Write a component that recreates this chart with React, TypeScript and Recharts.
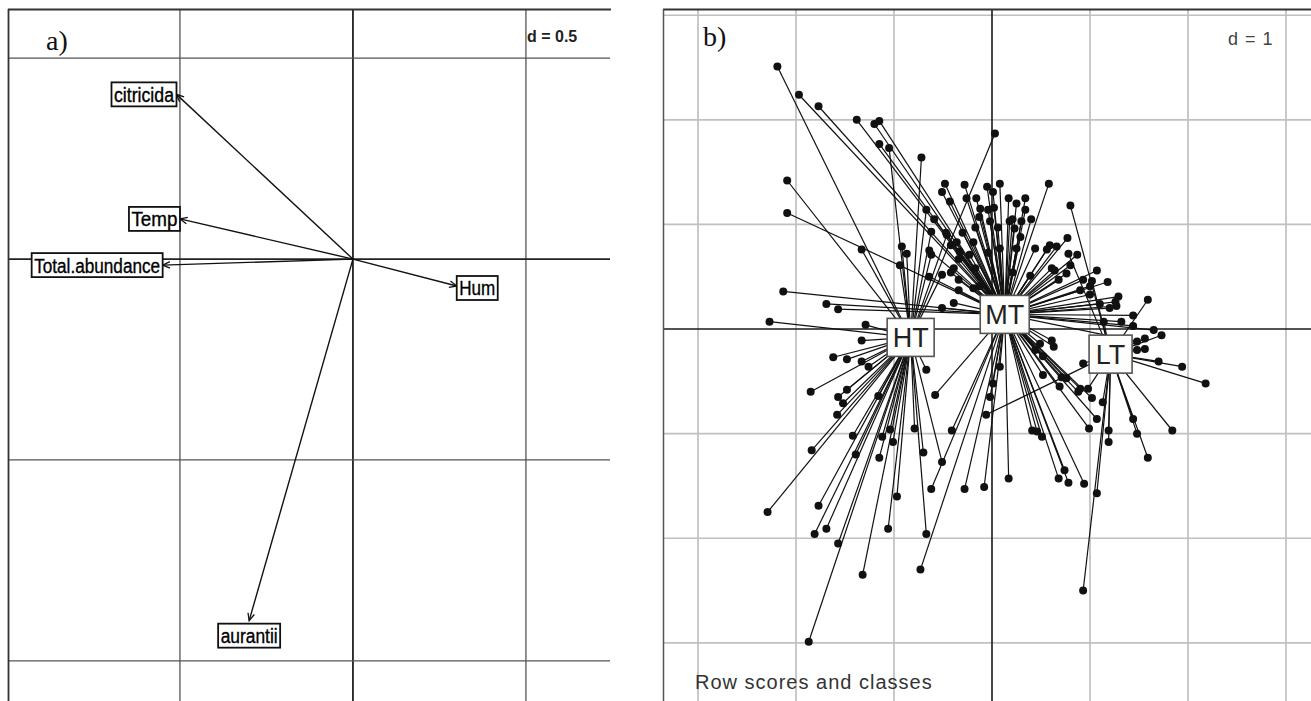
import React from 'react';
import { ScatterChart, Scatter, XAxis, YAxis, ReferenceLine } from 'recharts';

// ---- panel a: variable arrows ----
const varNames = ['citricida', 'Temp', 'Total.abundance', 'Hum', 'aurantii'];
const varX = [-0.51, -0.5, -0.55, 0.3, -0.3];
const varY = [0.41, 0.1, -0.015, -0.067, -0.9];
const gridAX = [-0.5, 0, 0.5];
const gridAY = [0.5, 0, -0.5, -1];

// ---- panel b: row scores and class centroids ----
const classNames = ['HT', 'MT', 'LT'];
const classX = [-0.83, 0.13, 1.21];
const classY = [-0.08, 0.14, -0.24];

const htScores = [
  [-2.19, 2.51], [-1.05, 1.73], [-0.72, 1.64], [-2.09, 1.42], [-1.33, 0.76], [-0.94, 0.61],
  [-2.27, 0.07], [-1.29, 0.04], [-0.67, 1.14], [-0.62, 0.93], [-0.62, 0.71], [-0.51, 0.52],
  [-0.46, 0.9], [-0.92, 0.79], [-0.87, 0.72], [0.03, 1.87], [-1.33, -0.11], [-1.62, -0.27],
  [-1.48, -0.29], [-1.33, -0.31], [-1.26, -0.36], [-1.85, -0.6], [-1.57, -0.65], [-1.48, -0.58],
  [-1.52, -0.71], [-1.58, -0.82], [-1.16, -0.64], [-1.42, -1.02], [-1.39, -1.2], [-1.84, -1.16],
  [-1.15, -1.23], [-1.01, -1.08], [-0.79, -0.95], [-0.7, -1.18], [-0.51, -1.27], [-0.67, -0.39],
  [-0.97, -1.6], [-1.77, -1.69], [-2.29, -1.75], [-1.81, -1.96], [-1.69, -1.91], [-1.57, -2.05],
  [-1.06, -1.91], [-0.67, -1.96], [-1.32, -2.35], [-1.87, -2.99], [-1.12, -1.03], [-1.04, -0.96],
];

const mtScores = [
  [-1.97, 2.24], [-1.77, 2.13], [-1.38, 2.0], [-1.2, 1.96], [-1.15, 1.99], [-1.15, 1.77],
  [-2.09, 1.11], [-2.13, 0.36], [-1.69, 0.24], [-1.57, 0.19], [-0.51, 1.31], [-0.48, 1.39],
  [-0.43, 1.22], [-0.36, 0.83], [-0.26, 1.25], [-0.28, 1.38], [-0.16, 1.25], [-0.12, 1.15],
  [-0.05, 1.36], [0.01, 1.31], [-0.02, 1.03], [-0.19, 0.83], [-0.33, 0.74], [-0.39, 0.58],
  [-0.39, 0.25], [-0.51, 0.2], [-0.19, 0.39], [0.08, 1.39], [0.58, 1.39], [0.17, 1.25],
  [0.25, 1.2], [0.34, 1.25], [0.18, 1.03], [0.3, 1.03], [0.23, 0.96], [0.29, 0.88],
  [0.77, 0.87], [0.59, 0.8], [0.66, 0.79], [0.56, 0.76], [0.44, 0.77], [0.8, 0.61],
  [0.76, 0.53], [0.64, 0.56], [0.39, 0.51], [1.07, 0.56], [1.18, 0.45], [1.0, 0.41],
  [0.9, 0.37], [1.29, 0.31], [1.26, 0.26], [1.44, 0.13], [1.32, 0.07], [1.65, -0.01],
  [1.48, -0.12], [0.44, -0.2], [0.61, -0.11], [0.52, -0.26], [0.71, -0.46], [0.9, -0.57],
  [0.49, -0.14], [0.63, -0.17], [0.69, -0.55], [0.52, -0.44], [0.08, -0.36], [0.01, -0.52],
  [0.76, -0.47], [0.88, -0.6], [1.07, -0.86], [0.99, -0.95], [0.17, -1.43], [0.68, -1.43],
  [0.74, -1.35], [0.78, -1.47], [0.94, -1.48], [0.41, -0.97], [0.46, -0.98], [0.51, -1.03],
  [-0.58, -0.63], [-0.41, -0.97], [-0.28, -1.53], [-0.08, -1.51], [-0.62, -1.53], [-0.02, -0.65],
  [1.02, -0.66], [-0.73, -2.3], [-0.04, 1.14], [0.02, 1.16], [-0.13, 1.07], [0.06, 0.97],
  [0.21, 1.05], [0.34, 1.14], [0.4, 1.05], [-0.59, 1.05], [-0.47, 0.92], [-0.3, 0.92],
  [-0.17, 0.97], [-0.42, 0.8], [-0.64, 0.75], [-0.34, 0.67], [-0.23, 0.71], [-0.04, 0.73],
  [0.08, 0.77], [0.25, 0.77], [-0.17, 0.58], [-0.42, 0.54], [-0.64, 0.5], [-0.34, 0.47],
  [-0.13, 0.41], [0.21, 0.54], [-0.34, 0.37], [0.87, 0.71], [0.61, 0.58], [0.93, 0.47],
  [0.68, 0.47], [1.0, 0.33], [1.1, 0.24], [1.27, 0.22], [1.2, 0.2], [1.44, 0.03],
];

const ltScores = [
  [0.8, 1.18], [0.78, 0.72], [1.02, 0.46], [1.59, 0.28], [1.14, 0.07], [1.73, -0.06],
  [1.56, -0.09], [1.56, -0.19], [1.48, -0.2], [1.7, -0.31], [1.94, -0.36], [2.18, -0.52],
  [0.93, -0.33], [0.98, -0.57], [1.13, -0.7], [1.19, -0.97], [1.19, -1.08], [1.44, -0.86],
  [1.48, -1.0], [1.84, -0.97], [1.59, -1.23], [1.07, -1.57], [0.93, -2.5], [-0.06, -0.82],
];

const gridBX = [-3, -2, -1, 1, 2, 3];
const gridBY = [3, 2, 1, -1, -2, -3];

// label placement / box size (panel a), styling only
const labelSide: Record<string, string> = {
  citricida: 'left', Temp: 'left', 'Total.abundance': 'left', Hum: 'right', aurantii: 'below',
};
const labelW: Record<string, number> = {
  citricida: 65, Temp: 51, 'Total.abundance': 131, Hum: 41, aurantii: 62,
};

const varRows = varNames.map((name, i) => ({ name, x: varX[i], y: varY[i] }));
const classRows = classNames.map((name, i) => ({ name, x: classX[i], y: classY[i] }));
const toRows = (arr: number[][]) => arr.map(([x, y]) => ({ x, y }));
const scoreGroups = [htScores, mtScores, ltScores];

const Arrow = (p: any) => {
  const { x1, y1, x2, y2 } = p;
  const a = Math.atan2(y2 - y1, x2 - x1);
  const L = 8;
  const w = 0.42;
  const bx1 = x2 - L * Math.cos(a - w);
  const by1 = y2 - L * Math.sin(a - w);
  const bx2 = x2 - L * Math.cos(a + w);
  const by2 = y2 - L * Math.sin(a + w);
  return (
    <g>
      <line x1={x1} y1={y1} x2={x2} y2={y2} stroke="#111" strokeWidth={1.4} />
      <path d={`M${bx1},${by1}L${x2},${y2}L${bx2},${by2}`} fill="none" stroke="#111" strokeWidth={1.3} />
    </g>
  );
};

const VarLabel = (p: any) => {
  const { cx, cy, payload } = p;
  const w = labelW[payload.name];
  const h = 24;
  const side = labelSide[payload.name];
  let bx = cx - w;
  let by = cy - h / 2;
  if (side === 'right') { bx = cx; by = cy - h / 2 + 2; }
  if (side === 'below') { bx = cx - w / 2; by = cy + 3; }
  return (
    <g>
      <rect x={bx} y={by} width={w} height={h} fill="#fff" stroke="#111" strokeWidth={1.8} />
      <text x={bx + 2.5} y={by + h - 4.5} fontFamily="Liberation Sans, Arial, sans-serif" fontSize={20}
        fill="#000" stroke="#000" strokeWidth={0.35} textLength={w - 5} lengthAdjust="spacingAndGlyphs">
        {payload.name}
      </text>
    </g>
  );
};

const ClassLabel = (p: any) => {
  const { cx, cy, payload } = p;
  const w = payload.name === 'LT' ? 43 : payload.name === 'HT' ? 47 : 49;
  const h = 38;
  return (
    <g>
      <rect x={cx - w / 2} y={cy - h / 2} width={w} height={h} fill="#fdfdfb" stroke="#555" strokeWidth={1.6} />
      <text x={cx} y={cy + 9.5} textAnchor="middle" fontFamily="Liberation Sans, Arial, sans-serif"
        fontSize={27} fill="#222">{payload.name}</text>
    </g>
  );
};

const Dot = (p: any) => <circle cx={p.cx} cy={p.cy} r={4} fill="#111" />;

const noMargin = { top: 0, right: 0, bottom: 0, left: 0 };

export default function App() {
  return (
    <div style={{ position: 'absolute', left: 0, top: 0, width: 1311, height: 701, background: '#fff', overflow: 'hidden' }}>
      <div style={{ position: 'absolute', left: 8, top: 10 }}>
        <ScatterChart width={602} height={691} margin={noMargin}>
          <XAxis type="number" dataKey="x" domain={[-0.997, 0.743]} hide allowDataOverflow />
          <YAxis type="number" dataKey="y" domain={[-1.1, 0.62]} hide allowDataOverflow />
          {gridAX.map((v) => (
            <ReferenceLine key={'ax' + v} x={v} stroke={v === 0 ? '#222' : '#555'} strokeWidth={v === 0 ? 1.8 : 1.3} />
          ))}
          {gridAY.map((v) => (
            <ReferenceLine key={'ay' + v} y={v} stroke={v === 0 ? '#222' : '#555'} strokeWidth={v === 0 ? 1.8 : 1.3} />
          ))}
          {varRows.map((r) => (
            <ReferenceLine key={'arr' + r.name} segment={[{ x: 0, y: 0 }, { x: r.x, y: r.y }]} shape={Arrow} />
          ))}
          <Scatter data={varRows} isAnimationActive={false} shape={VarLabel} />
        </ScatterChart>
      </div>

      <div style={{ position: 'absolute', left: 663, top: 10 }}>
        <ScatterChart width={648} height={691} margin={noMargin}>
          <XAxis type="number" dataKey="x" domain={[-3.357, 3.255]} hide allowDataOverflow />
          <YAxis type="number" dataKey="y" domain={[-3.556, 3.05]} hide allowDataOverflow />
          {gridBX.map((v) => (
            <ReferenceLine key={'bx' + v} x={v} stroke="#c0c0c0" strokeWidth={1.7} />
          ))}
          {gridBY.map((v) => (
            <ReferenceLine key={'by' + v} y={v} stroke="#c0c0c0" strokeWidth={1.7} />
          ))}
          <ReferenceLine x={0} stroke="#1a1a1a" strokeWidth={1.6} />
          <ReferenceLine y={0} stroke="#1a1a1a" strokeWidth={1.6} />
          {scoreGroups.map((g, gi) =>
            g.map(([x, y], i) => (
              <ReferenceLine key={'s' + gi + '-' + i}
                segment={[{ x: classX[gi], y: classY[gi] }, { x, y }]} stroke="#111" strokeWidth={1.2} />
            ))
          )}
          {scoreGroups.map((g, gi) => (
            <Scatter key={'pts' + gi} data={toRows(g)} isAnimationActive={false} shape={Dot} />
          ))}
          <Scatter data={classRows} isAnimationActive={false} shape={ClassLabel} />
        </ScatterChart>
      </div>

      <svg width={1311} height={701} style={{ position: 'absolute', left: 0, top: 0, pointerEvents: 'none' }}>
        <line x1={8} y1={9.5} x2={611} y2={9.5} stroke="#333" strokeWidth={1.8} />
        <line x1={8.5} y1={9} x2={8.5} y2={701} stroke="#333" strokeWidth={1.8} />
        <line x1={663} y1={9.5} x2={1311} y2={9.5} stroke="#333" strokeWidth={1.8} />
        <line x1={663.5} y1={9} x2={663.5} y2={701} stroke="#555" strokeWidth={1.5} />
        <text x={46} y={50} fontFamily="Liberation Serif, Times New Roman, serif" fontSize={28} fill="#111">a)</text>
        <text x={527} y={42} fontFamily="Liberation Sans, Arial, sans-serif" fontSize={16} fontWeight="bold" fill="#222">d = 0.5</text>
        <text x={703} y={46} fontFamily="Liberation Serif, Times New Roman, serif" fontSize={28} fill="#111">b)</text>
        <text x={1228} y={45} fontFamily="Liberation Sans, Arial, sans-serif" fontSize={18} fill="#444" letterSpacing={1}>d = 1</text>
        <text x={695} y={689} fontFamily="Liberation Sans, Arial, sans-serif" fontSize={20} fill="#333" letterSpacing={1}>Row scores and classes</text>
      </svg>
    </div>
  );
}
